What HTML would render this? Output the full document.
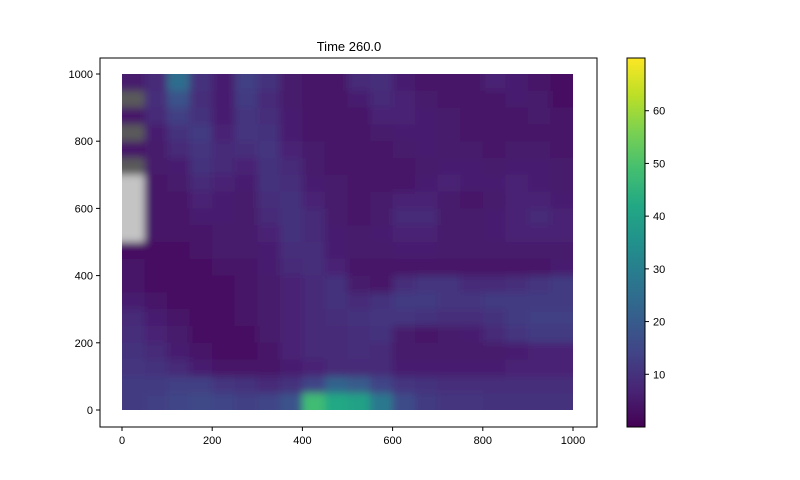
<!DOCTYPE html>
<html><head><meta charset="utf-8"><style>
body{margin:0;background:#fff;}
svg{display:block;font-family:"Liberation Sans","DejaVu Sans",sans-serif;}
</style></head><body>
<svg id="chart" width="800" height="480" viewBox="0 0 800 480" xmlns="http://www.w3.org/2000/svg">
<defs>
<filter id="blur" x="-0.1" y="-0.1" width="1.2" height="1.2">
<feGaussianBlur stdDeviation="4"/>
</filter>
<clipPath id="dataclip"><rect x="122" y="74" width="451" height="336"/></clipPath>
<linearGradient id="vir" x1="0" y1="1" x2="0" y2="0">
<stop offset="0" stop-color="#440154"/><stop offset="0.1" stop-color="#482475"/><stop offset="0.2" stop-color="#414487"/><stop offset="0.3" stop-color="#355f8d"/><stop offset="0.4" stop-color="#2a788e"/><stop offset="0.5" stop-color="#21918c"/><stop offset="0.6" stop-color="#22a884"/><stop offset="0.7" stop-color="#44bf70"/><stop offset="0.8" stop-color="#7ad151"/><stop offset="0.9" stop-color="#bddf26"/><stop offset="1" stop-color="#fde725"/>
</linearGradient>
</defs>
<text x="349" y="51" text-anchor="middle" font-size="13" fill="#000">Time 260.0</text>
<g clip-path="url(#dataclip)"><g id="cells" filter="url(#blur)"></g></g>
<rect x="100" y="58" width="497" height="369" fill="none" stroke="#000" stroke-width="1"/>
<g id="xticks"></g>
<g id="yticks"></g>
<rect x="627" y="58" width="18" height="369" fill="url(#vir)" stroke="#000" stroke-width="1"/>
<g id="cticks"></g>
</svg>
<script>
const xTicks=[0,200,400,600,800,1000];
const yTicks=[0,200,400,600,800,1000];
const cbTicks=[10,20,30,40,50,60];
const cMin=0, cMax=70;
// grid rows from top (y=1000) to bottom (y=0); -1 light gray, -2 dark gray
const row0=[5,8,25,10,6,13,10,5,4,4,8,9,6,4,4,4,7,6,4,3];
const row1=[-2,9,18,9,6,12,8,5,4,4,6,8,7,5,4,4,4,6,5,3];
const row2=[4,8,13,10,6,11,9,6,4,4,4,7,7,6,5,4,4,4,5,4];
const row3=[-2,6,10,12,7,11,10,6,4,4,4,5,6,6,5,4,4,4,4,4];
const row4=[4,5,8,11,8,9,11,7,5,4,4,4,5,6,5,5,4,5,5,4];
const row5=[-2,5,6,10,8,7,10,8,5,4,4,4,4,5,6,6,5,6,6,5];
const row6=[-1,4,5,8,7,6,10,9,6,5,4,4,4,6,7,6,6,7,6,5];
const row7=[-1,4,4,7,6,5,9,10,7,5,4,5,7,7,5,4,5,7,7,6];
const row8=[-1,4,4,6,6,5,8,10,8,5,4,5,8,8,5,5,6,7,8,7];
const row9=[-1,4,4,4,5,5,7,10,8,6,5,6,7,7,5,5,6,7,7,7];
const row10=[3,3,3,4,5,5,6,9,9,6,5,5,6,6,5,5,5,5,5,5];
const row11=[4,3,3,3,4,4,6,8,9,7,4,4,4,4,4,4,4,4,4,6];
const row12=[4,3,3,3,3,4,5,7,8,10,5,4,9,11,11,8,8,9,11,12];
const row13=[6,4,3,3,3,4,5,7,8,10,8,10,12,12,11,11,12,12,12,12];
const row14=[8,6,4,3,3,4,5,7,8,9,10,11,11,10,9,9,10,12,13,13];
const row15=[9,7,5,3,3,3,5,7,8,8,9,10,5,4,5,6,8,11,12,12];
const row16=[10,8,6,4,3,3,4,7,8,8,9,8,5,5,5,5,5,6,7,7];
const row17=[11,10,8,6,4,4,4,6,7,8,8,8,6,6,6,6,6,7,7,7];
const row18=[12,12,13,13,11,10,8,10,14,22,20,14,11,10,9,9,9,9,9,9];
const row19=[12,13,14,15,14,13,14,18,48,42,40,28,16,12,11,11,10,10,10,10];
const grid=[row0,row1,row2,row3,row4,row5,row6,row7,row8,row9,row10,row11,row12,row13,row14,row15,row16,row17,row18,row19];

const NS="http://www.w3.org/2000/svg";
const X0=122,X1=573,Y0=410,Y1=74;
const xs=v=>X0+(v-0)/(1000-0)*(X1-X0);
const ys=v=>Y0+(v-0)/(1000-0)*(Y1-Y0);
const cs=v=>427+(v-cMin)/(cMax-cMin)*(58-427);
const stops=["#440154","#482475","#414487","#355f8d","#2a788e","#21918c","#22a884","#44bf70","#7ad151","#bddf26","#fde725"];
function hex(h){return [1,3,5].map(i=>parseInt(h.substr(i,2),16));}
function viridis(v){
  if(v===-1)return "#c4c4c4";
  if(v===-2)return "#5a5a5a";
  let t=Math.max(0,Math.min(1,(v-cMin)/(cMax-cMin)))*10;
  let i=Math.min(9,Math.floor(t)),f=t-i;
  const a=hex(stops[i]),b=hex(stops[i+1]);
  return "rgb("+a.map((c,k)=>Math.round(c+(b[k]-c)*f)).join(",")+")";
}
function mk(tag,attrs,parent){const e=document.createElementNS(NS,tag);for(const k in attrs)e.setAttribute(k,attrs[k]);parent.appendChild(e);return e;}
const cells=document.getElementById('cells');
const nR=grid.length,nC=grid[0].length;
const dx=1000/nC,dy=1000/nR;
for(let r=-2;r<nR+2;r++){for(let c=-2;c<nC+2;c++){
  const rr=Math.max(0,Math.min(nR-1,r)),cc=Math.max(0,Math.min(nC-1,c));
  const v=grid[rr][cc];
  const xa=xs(c*dx),xb=xs((c+1)*dx),ya=ys(1000-r*dy),yb=ys(1000-(r+1)*dy);
  const e=mk('rect',{x:xa,y:ya,width:xb-xa+0.5,height:yb-ya+0.5,fill:viridis(v)},cells);
  
  
}}
const xg=document.getElementById('xticks');
xTicks.forEach(t=>{
  const l=mk('line',{x1:xs(t),x2:xs(t),y1:427,y2:431,stroke:'#000'},xg);
  
  
  const tx=mk('text',{x:xs(t),y:444,'text-anchor':'middle','font-size':'11',fill:'#000'},xg);tx.textContent=t;
  
  
});
const yg=document.getElementById('yticks');
yTicks.forEach(t=>{
  const l=mk('line',{x1:96,x2:100,y1:ys(t),y2:ys(t),stroke:'#000'},yg);
  
  
  const tx=mk('text',{x:93,y:ys(t)+4,'text-anchor':'end','font-size':'11',fill:'#000'},yg);tx.textContent=t;
  
  
});
const cg=document.getElementById('cticks');
cbTicks.forEach(t=>{
  const l=mk('line',{x1:645,x2:649,y1:cs(t),y2:cs(t),stroke:'#000'},cg);
  
  
  const tx=mk('text',{x:653,y:cs(t)+4,'font-size':'11',fill:'#000'},cg);tx.textContent=t;
  
  
});
</script>
</body></html>
